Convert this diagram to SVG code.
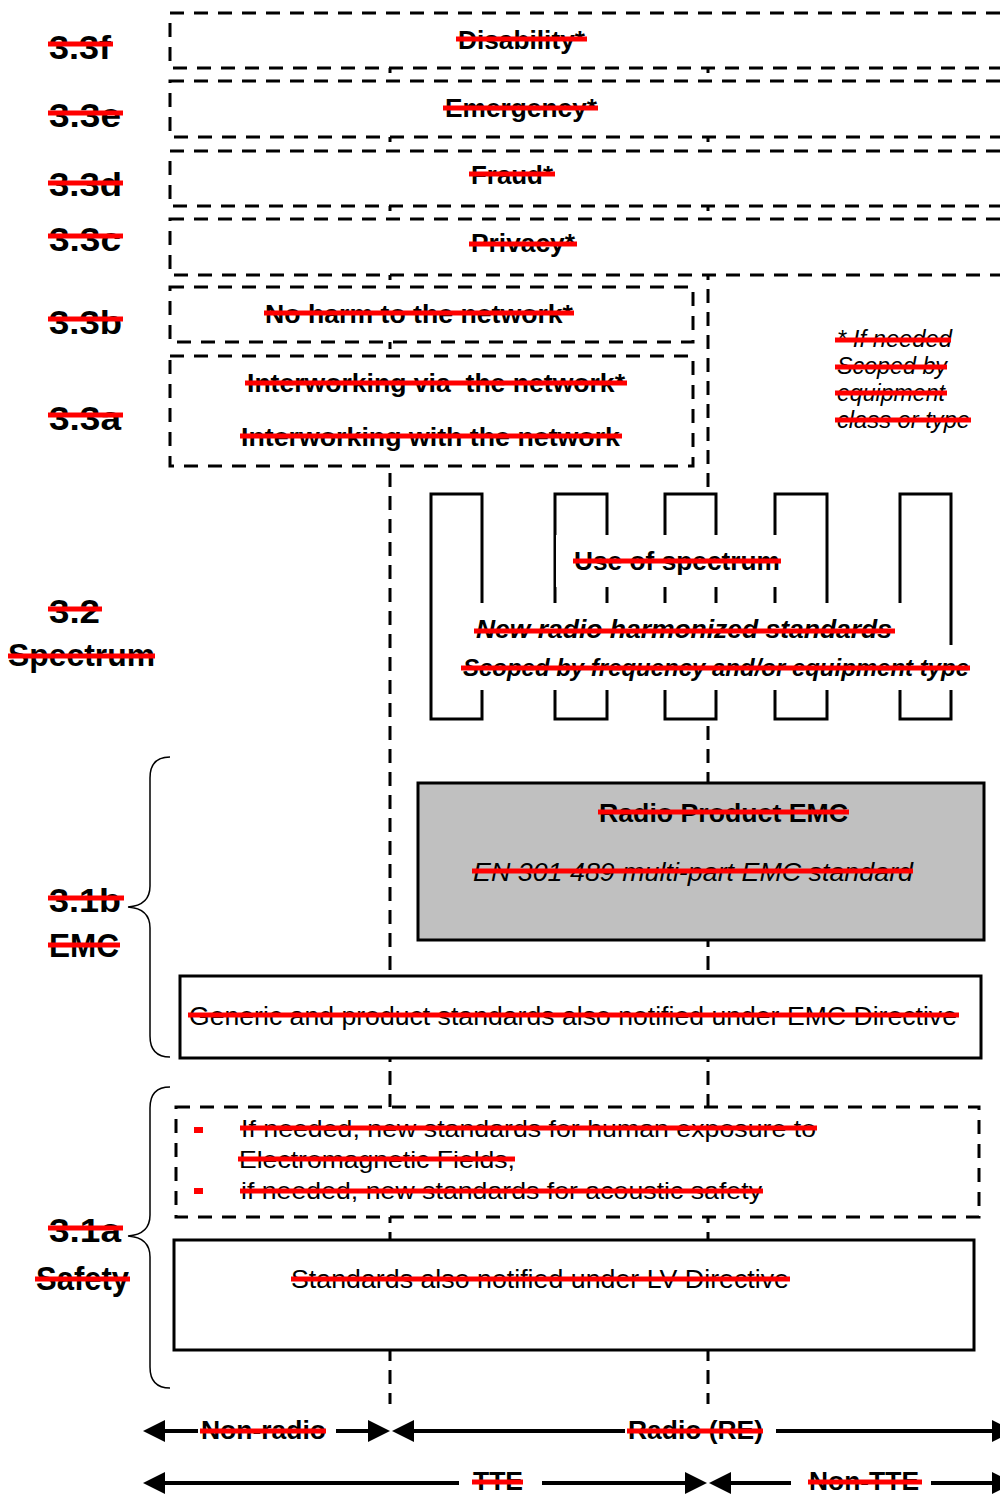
<svg xmlns="http://www.w3.org/2000/svg" width="1000" height="1496" viewBox="0 0 1000 1496">
<style>
text{font-family:"Liberation Sans",Arial,sans-serif;fill:#000;}
.lbl{font-weight:bold;font-size:34px;}
.b26{font-weight:bold;font-size:26px;}
.bi26{font-weight:bold;font-style:italic;font-size:26px;}
.bi24{font-weight:bold;font-style:italic;font-size:24px;}
.i24{font-style:italic;font-size:24px;}
.i26{font-style:italic;font-size:26px;}
.r26{font-size:26px;}
.r24{font-size:24px;}
.st{stroke:#ff0000;stroke-width:5;}
.dbox{fill:#fff;stroke:#000;stroke-width:3;stroke-dasharray:14 10;}
.sbox{fill:#fff;stroke:#000;stroke-width:3;}
.vline{fill:none;stroke:#000;stroke-width:3;stroke-dasharray:14 9;}
.arr{stroke:#000;stroke-width:4;}
.brace{fill:none;stroke:#000;stroke-width:1.5;}
.bullet{fill:#ff0000;}
</style>
<defs>
<marker id="ah" markerUnits="userSpaceOnUse" markerWidth="22" markerHeight="22" refX="1" refY="11" orient="auto-start-reverse" viewBox="0 0 22 22">
<path d="M0,0 L22,11 L0,22 Z" fill="#000"/>
</marker>
</defs>
<rect width="1000" height="1496" fill="#fff"/>

<g id="connectors">
<line class="vline" x1="390" y1="13" x2="390" y2="1404"/>
<line class="vline" x1="708" y1="13" x2="708" y2="1404"/>
<line class="arr" x1="164" y1="1431" x2="198" y2="1431" marker-start="url(#ah)"/>
<line class="arr" x1="336" y1="1431" x2="369" y2="1431" marker-end="url(#ah)"/>
<line class="arr" x1="413" y1="1431" x2="625" y2="1431" marker-start="url(#ah)"/>
<line class="arr" x1="776" y1="1431" x2="993" y2="1431" marker-end="url(#ah)"/>
<line class="arr" x1="164" y1="1483" x2="459" y2="1483" marker-start="url(#ah)"/>
<line class="arr" x1="542" y1="1483" x2="686" y2="1483" marker-end="url(#ah)"/>
<line class="arr" x1="730" y1="1483" x2="791" y2="1483" marker-start="url(#ah)"/>
<line class="arr" x1="931" y1="1483" x2="993" y2="1483" marker-end="url(#ah)"/>
</g>

<g id="labels">
<text class="lbl" x="49" y="59" textLength="62" lengthAdjust="spacingAndGlyphs">3.3f</text>
<line class="st" x1="48" y1="44" x2="113" y2="44"/>
<text class="lbl" x="49" y="127" textLength="72" lengthAdjust="spacingAndGlyphs">3.3e</text>
<line class="st" x1="48" y1="113" x2="123" y2="113"/>
<text class="lbl" x="49" y="196" textLength="73" lengthAdjust="spacingAndGlyphs">3.3d</text>
<line class="st" x1="48" y1="183" x2="123" y2="183"/>
<text class="lbl" x="49" y="251" textLength="72" lengthAdjust="spacingAndGlyphs">3.3c</text>
<line class="st" x1="48" y1="236" x2="123" y2="236"/>
<text class="lbl" x="49" y="334" textLength="73" lengthAdjust="spacingAndGlyphs">3.3b</text>
<line class="st" x1="48" y1="319" x2="123" y2="319"/>
<text class="lbl" x="49" y="430" textLength="72" lengthAdjust="spacingAndGlyphs">3.3a</text>
<line class="st" x1="48" y1="415" x2="123" y2="415"/>
<text class="lbl" x="49" y="623" textLength="51" lengthAdjust="spacingAndGlyphs">3.2</text>
<line class="st" x1="48" y1="609" x2="102" y2="609"/>
<text class="lbl" x="8" y="666" textLength="147" lengthAdjust="spacingAndGlyphs" style="font-size:32px">Spectrum</text>
<line class="st" x1="8" y1="656" x2="155" y2="656"/>
<text class="lbl" x="49" y="912" textLength="72" lengthAdjust="spacingAndGlyphs">3.1b</text>
<line class="st" x1="48" y1="898" x2="124" y2="898"/>
<text class="lbl" x="49" y="957" textLength="70" lengthAdjust="spacingAndGlyphs">EMC</text>
<line class="st" x1="48" y1="945" x2="120" y2="945"/>
<text class="lbl" x="49" y="1242" textLength="72" lengthAdjust="spacingAndGlyphs">3.1a</text>
<line class="st" x1="48" y1="1228" x2="123" y2="1228"/>
<text class="lbl" x="36" y="1290" textLength="93" lengthAdjust="spacingAndGlyphs">Safety</text>
<line class="st" x1="35" y1="1279" x2="130" y2="1279"/>
<path class="brace" d="M170,757 C157,757 150,764 150,778 L150,886 C150,899 142,906 128,907 C142,908 150,915 150,928 L150,1036 C150,1050 157,1057 170,1057"/>
<path class="brace" d="M170,1087 C157,1087 150,1094 150,1108 L150,1215 C150,1228 142,1235 128,1236 C142,1237 150,1244 150,1257 L150,1367 C150,1381 157,1388 170,1388"/>
</g>

<g id="disability">
<rect class="dbox" x="170" y="13" width="845" height="55"/>
<text class="b26" x="458" y="49" textLength="127" lengthAdjust="spacingAndGlyphs">Disability*</text>
<line class="st" x1="456" y1="39" x2="587" y2="39"/>
</g>
<g id="emergency">
<rect class="dbox" x="170" y="81" width="845" height="56"/>
<text class="b26" x="445" y="117" textLength="152" lengthAdjust="spacingAndGlyphs">Emergency*</text>
<line class="st" x1="443" y1="108" x2="598" y2="108"/>
</g>
<g id="fraud">
<rect class="dbox" x="170" y="151" width="845" height="55"/>
<text class="b26" x="471" y="184" textLength="82" lengthAdjust="spacingAndGlyphs">Fraud*</text>
<line class="st" x1="469" y1="174" x2="555" y2="174"/>
</g>
<g id="privacy">
<rect class="dbox" x="170" y="219" width="845" height="56"/>
<text class="b26" x="471" y="252" textLength="104" lengthAdjust="spacingAndGlyphs">Privacy*</text>
<line class="st" x1="469" y1="244" x2="577" y2="244"/>
</g>
<g id="noharm">
<rect class="dbox" x="170" y="287" width="523" height="55"/>
<text class="b26" x="265" y="323" textLength="308" lengthAdjust="spacingAndGlyphs">No harm to the network*</text>
<line class="st" x1="264" y1="313" x2="574" y2="313"/>
</g>
<g id="interworking">
<rect class="dbox" x="170" y="356" width="523" height="110"/>
<text class="b26" x="247" y="392" textLength="378" lengthAdjust="spacingAndGlyphs" xml:space="preserve">Interworking via  the network*</text>
<line class="st" x1="245" y1="383" x2="627" y2="383"/>
<text class="b26" x="241" y="446" textLength="379" lengthAdjust="spacingAndGlyphs">Interworking with the network</text>
<line class="st" x1="240" y1="436" x2="622" y2="436"/>
</g>
<g id="note">
<text class="i24" x="837" y="347" textLength="115" lengthAdjust="spacingAndGlyphs">* If needed</text>
<line class="st" x1="835" y1="340" x2="951" y2="340"/>
<text class="i24" x="837" y="374" textLength="110" lengthAdjust="spacingAndGlyphs">Scoped by</text>
<line class="st" x1="835" y1="367" x2="947" y2="367"/>
<text class="i24" x="837" y="401" textLength="108" lengthAdjust="spacingAndGlyphs">equipment</text>
<line class="st" x1="835" y1="393" x2="947" y2="393"/>
<text class="i24" x="837" y="428" textLength="133" lengthAdjust="spacingAndGlyphs">class or type</text>
<line class="st" x1="835" y1="420" x2="971" y2="420"/>
</g>

<g id="spectrum">
<path d="M431,719 L431,494 L482,494 L482,640 L555,640 L555,494 L607,494 L607,640 L665,640 L665,494 L716,494 L716,640 L775,640 L775,494 L827,494 L827,640 L900,640 L900,494 L951,494 L951,719 L900,719 L900,660 L827,660 L827,719 L775,719 L775,660 L716,660 L716,719 L665,719 L665,660 L607,660 L607,719 L555,719 L555,660 L482,660 L482,719 Z" fill="#fff" stroke="#000" stroke-width="3" stroke-linejoin="miter"/>
<rect x="556" y="535" width="234" height="52" fill="#fff"/>
<rect x="440" y="603" width="505" height="87" fill="#fff"/>
<rect x="455" y="645" width="520" height="45" fill="#fff"/>
<text class="b26" x="574" y="570" textLength="206" lengthAdjust="spacingAndGlyphs">Use of spectrum</text>
<line class="st" x1="573" y1="561" x2="781" y2="561"/>
<text class="bi26" x="476" y="638" textLength="416" lengthAdjust="spacingAndGlyphs">New radio harmonized standards</text>
<line class="st" x1="474" y1="631" x2="895" y2="631"/>
<text class="bi24" x="463" y="676" textLength="506" lengthAdjust="spacingAndGlyphs">Scoped by frequency and/or equipment type</text>
<line class="st" x1="461" y1="668" x2="970" y2="668"/>
</g>

<g id="radioemc">
<rect x="418" y="783" width="566" height="157" fill="#c0c0c0" stroke="#000" stroke-width="3"/>
<text class="b26" x="599" y="822" textLength="249" lengthAdjust="spacingAndGlyphs">Radio Product EMC</text>
<line class="st" x1="598" y1="812" x2="849" y2="812"/>
<text class="i26" x="473" y="881" textLength="440" lengthAdjust="spacingAndGlyphs">EN 301 489 multi-part EMC standard</text>
<line class="st" x1="472" y1="871" x2="913" y2="871"/>
</g>
<g id="genericemc">
<rect class="sbox" x="180" y="976" width="801" height="82"/>
<text class="r26" x="189" y="1025" textLength="768" lengthAdjust="spacingAndGlyphs">Generic and product standards also notified under EMC Directive</text>
<line class="st" x1="188" y1="1015" x2="959" y2="1015"/>
</g>

<g id="safetynew">
<rect class="dbox" x="176" y="1107" width="803" height="110"/>
<rect class="bullet" x="194" y="1127" width="9" height="6"/>
<rect class="bullet" x="194" y="1188" width="9" height="6"/>
<text class="r24" x="241" y="1137" textLength="575" lengthAdjust="spacingAndGlyphs">If needed, new standards for human exposure to</text>
<line class="st" x1="240" y1="1128" x2="817" y2="1128"/>
<text class="r24" x="239" y="1168" textLength="276" lengthAdjust="spacingAndGlyphs">Electromagnetic Fields,</text>
<line class="st" x1="238" y1="1159" x2="515" y2="1159"/>
<text class="r24" x="241" y="1199" textLength="521" lengthAdjust="spacingAndGlyphs">if needed, new standards for acoustic safety</text>
<line class="st" x1="240" y1="1191" x2="763" y2="1191"/>
</g>
<g id="lvd">
<rect class="sbox" x="174" y="1240" width="800" height="110"/>
<text class="r24" x="291" y="1288" textLength="498" lengthAdjust="spacingAndGlyphs" style="font-size:25px">Standards also notified under LV Directive</text>
<line class="st" x1="291" y1="1279" x2="790" y2="1279"/>
</g>

<g id="scope-labels">
<text class="b26" x="201" y="1439" textLength="125" lengthAdjust="spacingAndGlyphs">Non-radio</text>
<line class="st" x1="200" y1="1431" x2="326" y2="1431"/>
<text class="b26" x="628" y="1439" textLength="135" lengthAdjust="spacingAndGlyphs">Radio (RE)</text>
<line class="st" x1="627" y1="1431" x2="763" y2="1431"/>
<text class="b26" x="473" y="1490" textLength="50" lengthAdjust="spacingAndGlyphs">TTE</text>
<line class="st" x1="472" y1="1482" x2="523" y2="1482"/>
<text class="b26" x="809" y="1490" textLength="110" lengthAdjust="spacingAndGlyphs">Non-TTE</text>
<line class="st" x1="808" y1="1482" x2="922" y2="1482"/>
</g>
</svg>
